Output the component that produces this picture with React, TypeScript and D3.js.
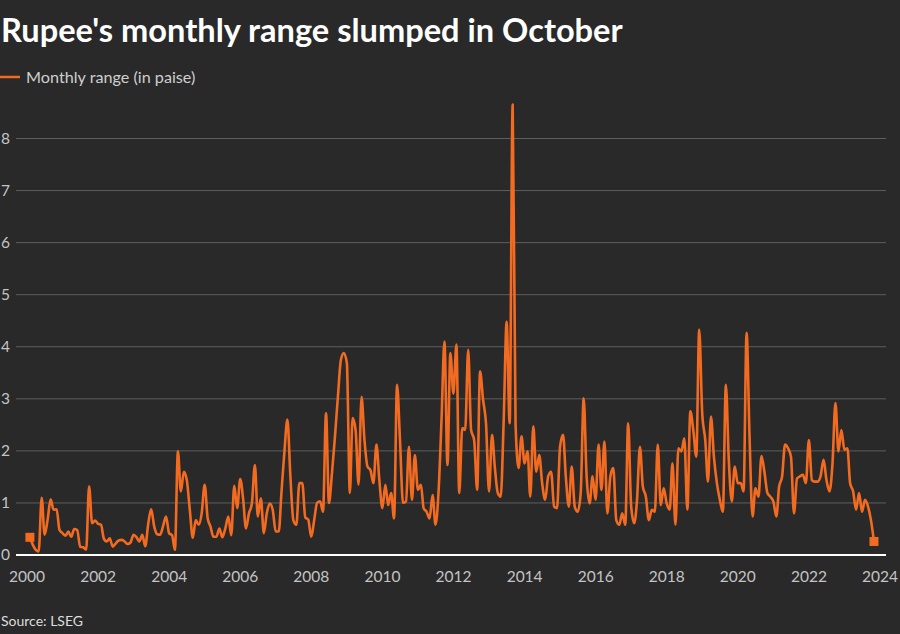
// @ts-nocheck
import * as d3 from 'd3';

// monthly range of the rupee, Jan 2000 .. Oct 2023 (in paise)
const startYear = 2000;
const values2000 = [0.34, 0.2, 0.1, 0.07, 1.1, 0.39, 0.68, 1.07, 0.87, 0.88, 0.48, 0.42];
const values2001 = [0.37, 0.45, 0.35, 0.5, 0.48, 0.16, 0.15, 0.1, 1.32, 0.61, 0.66, 0.6];
const values2002 = [0.58, 0.32, 0.26, 0.32, 0.16, 0.22, 0.28, 0.29, 0.26, 0.21, 0.24, 0.39];
const values2003 = [0.34, 0.26, 0.39, 0.17, 0.6, 0.88, 0.55, 0.4, 0.39, 0.56, 0.74, 0.42];
const values2004 = [0.38, 0.1, 1.99, 1.22, 1.6, 1.44, 0.87, 0.33, 0.67, 0.58, 0.8, 1.35];
const values2005 = [0.7, 0.55, 0.35, 0.35, 0.51, 0.34, 0.51, 0.74, 0.38, 1.33, 0.9, 1.46];
const values2006 = [1.06, 0.51, 0.8, 0.99, 1.73, 0.74, 1.09, 0.42, 0.8, 0.99, 0.87, 0.45];
const values2007 = [0.45, 1.2, 2.0, 2.6, 1.5, 0.67, 0.58, 1.38, 1.38, 0.72, 0.68, 0.35];
const values2008 = [0.68, 1.0, 1.03, 0.83, 2.72, 1.0, 1.57, 2.28, 3.04, 3.75, 3.88, 3.69];
const values2009 = [1.19, 2.63, 2.4, 1.35, 3.04, 2.21, 1.7, 1.63, 1.38, 2.12, 1.44, 0.9];
const values2010 = [1.35, 0.96, 1.19, 0.7, 3.27, 2.21, 1.0, 1.03, 2.08, 1.06, 1.92, 1.25];
const values2011 = [1.35, 0.9, 0.83, 0.7, 1.15, 0.58, 1.2, 2.6, 4.1, 1.73, 3.88, 3.1];
const values2012 = [4.04, 1.19, 2.44, 2.4, 3.94, 2.4, 2.21, 1.25, 3.53, 2.98, 2.53, 1.22];
const values2013 = [2.31, 1.7, 1.19, 1.12, 2.6, 4.48, 2.53, 8.65, 2.5, 1.67, 2.28, 1.76];
const values2014 = [1.99, 1.12, 2.47, 1.6, 1.92, 1.38, 1.06, 1.51, 1.6, 0.93, 0.9, 2.08];
const values2015 = [2.31, 1.51, 0.93, 1.7, 0.93, 0.83, 1.19, 3.01, 1.51, 0.99, 1.51, 1.06];
const values2016 = [2.12, 1.25, 2.18, 0.8, 1.51, 1.67, 0.67, 0.58, 0.8, 0.58, 2.53, 0.93];
const values2017 = [0.61, 1.03, 2.08, 1.31, 1.12, 0.67, 0.87, 0.83, 2.12, 0.96, 1.28, 0.99];
const values2018 = [0.87, 1.76, 0.58, 2.05, 1.99, 2.24, 0.87, 2.76, 2.4, 1.89, 4.33, 2.72];
const values2019 = [2.21, 1.41, 2.66, 1.89, 1.38, 1.06, 0.83, 3.27, 1.83, 1.03, 1.7, 1.38];
const values2020 = [1.38, 1.22, 4.27, 2.3, 0.74, 1.28, 1.12, 1.9, 1.6, 1.19, 1.12, 1.03];
const values2021 = [0.74, 1.31, 1.51, 2.12, 2.05, 1.89, 0.8, 1.47, 1.51, 1.54, 1.38, 2.21];
const values2022 = [1.44, 1.41, 1.41, 1.51, 1.83, 1.44, 1.22, 1.76, 2.92, 1.99, 2.4, 2.02];
const values2023 = [2.05, 1.38, 1.22, 0.87, 1.19, 0.83, 1.06, 0.93, 0.67, 0.26];

const yearly = [
  values2000, values2001, values2002, values2003, values2004, values2005,
  values2006, values2007, values2008, values2009, values2010, values2011,
  values2012, values2013, values2014, values2015, values2016, values2017,
  values2018, values2019, values2020, values2021, values2022, values2023,
];

const yTicks = [0, 1, 2, 3, 4, 5, 6, 7, 8];
const xTickYears = [2000, 2002, 2004, 2006, 2008, 2010, 2012, 2014, 2016, 2018, 2020, 2022, 2024];

const title = "Rupee's monthly range slumped in October";
const legendLabel = 'Monthly range (in paise)';
const sourceLabel = 'Source: LSEG';

// each value is stamped at the end of its month
const data = yearly.flatMap((vals, yi) =>
  vals.map((v, mi) => ({ date: new Date(startYear + yi, mi + 1, 0), value: v }))
);

const App = () => {
  const width = 900;
  const height = 634;
  const font = 'Lato, "Open Sans", sans-serif';
  const orange = '#f26b21';

  const xScale = d3.scaleTime()
    .domain([new Date(2000, 0, 1), new Date(2024, 0, 1)])
    .range([27, 880]);

  const yScale = d3.scaleLinear()
    .domain([0, 8])
    .range([555, 138.5]);

  const line = d3.line()
    .x((d) => xScale(d.date))
    .y((d) => yScale(d.value))
    .curve(d3.curveMonotoneX);

  const first = data[0];
  const last = data[data.length - 1];

  return (
    <svg width={width} height={height} style={{ position: 'absolute', left: 0, top: 0, background: '#292929' }}>
      <rect width={width} height={height} fill="#292929" />
      <text x={1} y={42} fill="#ffffff" fontFamily={font} fontWeight={700} fontSize={32.6}>{title}</text>

      <line x1={0} x2={20} y1={77} y2={77} stroke={orange} strokeWidth={2.5} />
      <text x={26} y={82.5} fill="#cfcfcf" fontFamily={font} fontSize={16.2}>{legendLabel}</text>

      {yTicks.filter((t) => t > 0).map((t) => (
        <line key={t} x1={16} x2={886} y1={yScale(t)} y2={yScale(t)} stroke="#5e5e5e" strokeWidth={1} />
      ))}
      {yTicks.map((t) => (
        <text key={'l' + t} x={1} y={yScale(t)} dy="0.35em" fill="#c4c4c4" fontFamily={font} fontSize={15.5}>{t}</text>
      ))}

      <path d={line(data)} fill="none" stroke={orange} strokeWidth={2.6} strokeLinejoin="round" />
      <rect x={xScale(first.date) - 4.5} y={yScale(first.value) - 4.5} width={9} height={9} fill={orange} />
      <rect x={xScale(last.date) - 4.5} y={yScale(last.value) - 4.5} width={9} height={9} fill={orange} />

      <line x1={16} x2={886} y1={yScale(0)} y2={yScale(0)} stroke="#ffffff" strokeWidth={2} />
      {xTickYears.map((yr) => (
        <text key={yr} x={xScale(new Date(yr, 0, 1))} y={582} textAnchor="middle" fill="#c4c4c4" fontFamily={font} fontSize={15.5}>{yr}</text>
      ))}

      <text x={1} y={626} fill="#dddddd" fontFamily={font} fontSize={14}>{sourceLabel}</text>
    </svg>
  );
};

export default App;
